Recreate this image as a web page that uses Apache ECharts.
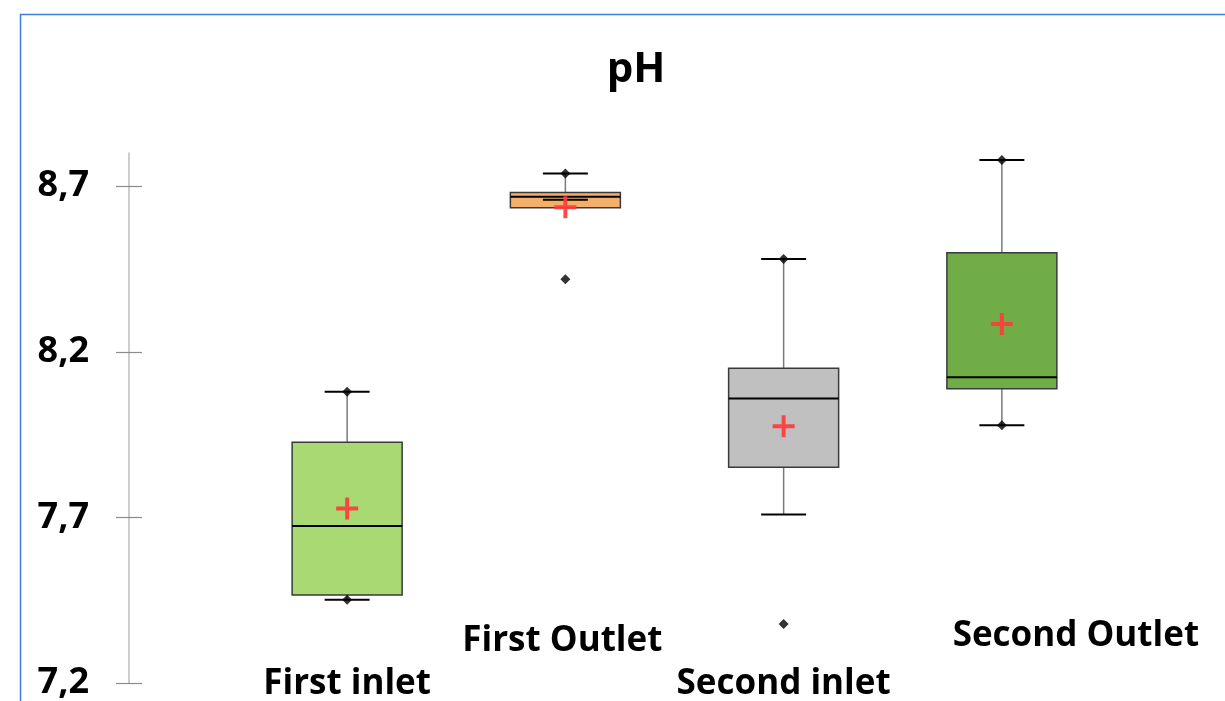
<!DOCTYPE html>
<html>
<head>
<meta charset="utf-8">
<script src="https://cdn.jsdelivr.net/npm/echarts@6/dist/echarts.min.js"></script>
<style>
  html, body { margin: 0; padding: 0; background: #ffffff; }
  #chart { width: 1225px; height: 701px; }
</style>
</head>
<body>
<div id="chart"></div>
<script>
// pH per sampling point: box statistics, means and extreme observations
const categories = ['First inlet', 'First Outlet', 'Second inlet', 'Second Outlet'];
const whiskerLow  = [7.451, 8.659, 7.709, 7.978];
const q1          = [7.466, 8.635, 7.851, 8.088];
const median      = [7.674, 8.668, 8.059, 8.123];
const q3          = [7.927, 8.681, 8.150, 8.499];
const whiskerHigh = [8.079, 8.738, 8.480, 8.779];
const means       = [7.727, 8.636, 7.975, 8.284];
const minima      = [7.451, 8.419, 7.378, 7.978];
const maxima      = [8.079, 8.738, 8.480, 8.779];
const yTicks      = [7.2, 7.7, 8.2, 8.7];

const boxColors = ['#a9d972', '#f4b06b', '#c0c0c0', '#70ad47'];
const FONT = '"Open Sans", Lato, sans-serif';

const boxData = categories.map((c, i) => [i, whiskerLow[i], q1[i], median[i], q3[i], whiskerHigh[i]]);
const extremeData = [];
categories.forEach((c, i) => { extremeData.push([i, minima[i]]); extremeData.push([i, maxima[i]]); });
const meanData = categories.map((c, i) => [i, means[i]]);

function renderBox(params, api) {
  const i = api.value(0);
  const band = api.size([1, 0])[0];
  const half = band * 0.252;
  const capHalf = band * 0.103;
  const pLow = api.coord([i, api.value(1)]);
  const pQ1 = api.coord([i, api.value(2)]);
  const pMed = api.coord([i, api.value(3)]);
  const pQ3 = api.coord([i, api.value(4)]);
  const pHigh = api.coord([i, api.value(5)]);
  const x = pQ1[0];
  const whiskerStyle = { stroke: '#7a7a7a', lineWidth: 1.5 };
  const capStyle = { stroke: '#000000', lineWidth: 2 };
  return {
    type: 'group',
    children: [
      { type: 'line', shape: { x1: x, y1: pQ3[1], x2: x, y2: pHigh[1] }, style: whiskerStyle },
      { type: 'line', shape: { x1: x, y1: pQ1[1], x2: x, y2: pLow[1] }, style: whiskerStyle },
      { type: 'rect', shape: { x: x - half, y: pQ3[1], width: half * 2, height: pQ1[1] - pQ3[1] },
        style: { fill: boxColors[i], stroke: '#3a3a3a', lineWidth: 1.5 } },
      { type: 'line', shape: { x1: x - half, y1: pMed[1], x2: x + half, y2: pMed[1] },
        style: { stroke: '#000000', lineWidth: 2 } },
      { type: 'line', shape: { x1: x - capHalf, y1: pHigh[1], x2: x + capHalf, y2: pHigh[1] }, style: capStyle },
      { type: 'line', shape: { x1: x - capHalf, y1: pLow[1], x2: x + capHalf, y2: pLow[1] }, style: capStyle }
    ]
  };
}

const plusPath = 'path://M-0.09,-0.5L0.09,-0.5L0.09,-0.09L0.5,-0.09L0.5,0.09L0.09,0.09L0.09,0.5L-0.09,0.5L-0.09,0.09L-0.5,0.09L-0.5,-0.09L-0.09,-0.09Z';

const yAxisBase = {
  type: 'value',
  min: 7.2,
  max: 8.8,
  position: 'left',
  offset: 109,
  splitLine: { show: false }
};

const chart = echarts.init(document.getElementById('chart'), null, { renderer: 'canvas' });

const option = {
  animation: false,
  backgroundColor: '#ffffff',
  grid: { left: 238, top: 153, width: 873, height: 531 },
  xAxis: {
    type: 'category',
    data: categories,
    axisLine: { show: false },
    axisTick: { show: false },
    axisLabel: { show: false },
    splitLine: { show: false }
  },
  yAxis: [
    Object.assign({}, yAxisBase, {
      axisLine: { show: true, lineStyle: { color: '#bdbdbd', width: 1.5 } },
      axisTick: { show: true, inside: false, length: 13, customValues: yTicks,
                  lineStyle: { color: '#8c8c8c', width: 1.2 } },
      axisLabel: {
        show: true, customValues: yTicks, margin: 40,
        formatter: v => v.toFixed(1).replace('.', ','),
        color: '#000000', fontSize: 36, fontWeight: 'bold', fontFamily: FONT
      }
    }),
    Object.assign({}, yAxisBase, {
      axisLine: { show: false },
      axisTick: { show: true, inside: true, length: 13, customValues: yTicks,
                  lineStyle: { color: '#8c8c8c', width: 1.2 } },
      axisLabel: { show: false }
    })
  ],
  series: [
    {
      name: 'pH', type: 'custom', renderItem: renderBox,
      xAxisIndex: 0, yAxisIndex: 0,
      encode: { x: 0, y: [1, 2, 3, 4, 5] },
      data: boxData, z: 2
    },
    {
      name: 'Min / Max', type: 'scatter', xAxisIndex: 0, yAxisIndex: 0,
      symbol: 'diamond', symbolSize: [10, 10],
      itemStyle: { color: '#000000' },
      data: extremeData, z: 4
    },
    {
      name: 'Mean', type: 'scatter', xAxisIndex: 0, yAxisIndex: 0,
      symbol: plusPath, symbolSize: 22,
      itemStyle: { color: '#ff3b3b', opacity: 0.92 },
      data: meanData, z: 5
    }
  ],
  graphic: [
    { id: 'frame', type: 'rect', silent: true,
      shape: { x: 20.5, y: 14.5, width: 1400, height: 900 },
      style: { fill: 'none', stroke: '#3c7ddb', lineWidth: 1.5 } },
    { id: 'title', type: 'text', x: 636, y: 70,
      style: { text: 'pH', fontSize: 42, fontWeight: 'bold', fontFamily: FONT,
               fill: '#000000', align: 'center', verticalAlign: 'middle' } }
  ]
};

chart.setOption(option);

// Category names sit below / beside each box at staggered heights
const labelPlacement = [[0, 684], [-3, 641], [0, 684], [74, 636]];
chart.setOption({
  graphic: categories.map((c, i) => ({
    id: 'cat' + i, type: 'text',
    x: chart.convertToPixel({ xAxisIndex: 0 }, c) + labelPlacement[i][0],
    y: labelPlacement[i][1],
    style: { text: c, fontSize: 35, fontWeight: 'bold', fontFamily: FONT,
             fill: '#000000', align: 'center', verticalAlign: 'middle' }
  }))
});
</script>
</body>
</html>
